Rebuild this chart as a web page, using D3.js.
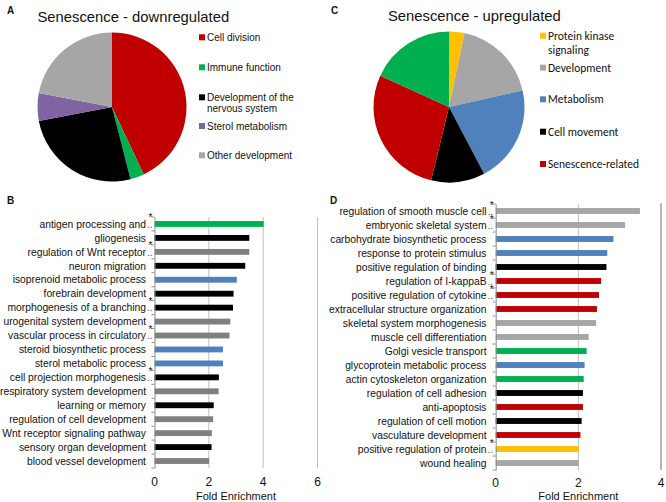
<!DOCTYPE html>
<html>
<head>
<meta charset="utf-8">
<script src="https://cdn.jsdelivr.net/npm/d3@7"></script>
<style>
  html, body { margin: 0; padding: 0; background: #fff; }
  svg { display: block; }
</style>
</head>
<body>
<svg id="chart" width="666" height="502"></svg>
<script>
// ---------- DATA ----------
const pieALabels = ["Cell division", "Immune function", "Development of the|nervous system", "Sterol metabolism", "Other development"];
const pieAValues = [43, 3, 26, 6, 22];
const pieAColors = ["#c00000", "#00b050", "#000000", "#8064a2", "#a6a6a6"];

const pieCLabels = ["Protein kinase|signaling", "Development", "Metabolism", "Cell movement", "Senescence-related", ""];
const pieCValues = [3.3, 18.2, 20.8, 11.5, 28, 18.2];
const pieCColors = ["#ffc000", "#a6a6a6", "#4f81bd", "#000000", "#c00000", "#00b050"];

const barBLabels = ["antigen processing and", "gliogenesis", "regulation of Wnt receptor", "neuron migration",
  "isoprenoid metabolic process", "forebrain development", "morphogenesis of a branching",
  "urogenital system development", "vascular process in circulatory", "steroid biosynthetic process",
  "sterol metabolic process", "cell projection morphogenesis", "respiratory system development",
  "learning or memory", "regulation of cell development", "Wnt receptor signaling pathway",
  "sensory organ development", "blood vessel development"];
const barBValues = [4.02, 3.49, 3.49, 3.34, 3.03, 2.91, 2.89, 2.79, 2.76, 2.52, 2.52, 2.37, 2.36, 2.18, 2.16, 2.11, 2.10, 2.01];
const barBColors = ["#00b050", "#000000", "#808080", "#000000", "#4f81bd", "#000000", "#000000", "#808080", "#808080",
  "#4f81bd", "#4f81bd", "#000000", "#808080", "#000000", "#808080", "#808080", "#000000", "#808080"];
const barBStar = [1, 0, 1, 0, 0, 0, 1, 0, 1, 0, 0, 1, 0, 0, 0, 0, 0, 0];
const ticksB = [0, 2, 4, 6];

const barDLabels = ["regulation of smooth muscle cell", "embryonic skeletal system", "carbohydrate biosynthetic process",
  "response to protein stimulus", "positive regulation of binding", "regulation of I-kappaB",
  "positive regulation of cytokine", "extracellular structure organization", "skeletal system morphogenesis",
  "muscle cell differentiation", "Golgi vesicle transport", "glycoprotein metabolic process",
  "actin cytoskeleton organization", "regulation of cell adhesion", "anti-apoptosis", "regulation of cell motion",
  "vasculature development", "positive regulation of protein", "wound healing"];
const barDValues = [3.49, 3.13, 2.85, 2.70, 2.68, 2.55, 2.50, 2.45, 2.43, 2.25, 2.20, 2.15, 2.13, 2.11, 2.11, 2.08, 2.05, 2.01, 2.01];
const barDColors = ["#a6a6a6", "#a6a6a6", "#4f81bd", "#4f81bd", "#000000", "#c00000", "#c00000", "#c00000", "#a6a6a6",
  "#a6a6a6", "#00b050", "#4f81bd", "#00b050", "#000000", "#c00000", "#000000", "#c00000", "#ffc000", "#a6a6a6"];
const barDStar = [1, 1, 0, 0, 0, 1, 1, 0, 0, 0, 0, 0, 0, 0, 0, 0, 0, 1, 0];
const ticksD = [0, 2, 4];

// ---------- DRAW ----------
const ARIAL = '"Liberation Sans", Arial, sans-serif';
const CALIBRI = 'Carlito, Lato, "Liberation Sans", sans-serif';
const svg = d3.select("#chart");

function txt(x, y, s, size, family, anchor) {
  return svg.append("text").attr("x", x).attr("y", y).attr("font-size", size)
    .style("font-family", family || ARIAL).attr("text-anchor", anchor || "start")
    .attr("fill", "#111").text(s);
}

txt(7, 14, "A", 10).attr("font-weight", "bold");
txt(331, 14, "C", 10).attr("font-weight", "bold");
txt(7, 204, "B", 10).attr("font-weight", "bold");
txt(330, 204, "D", 10).attr("font-weight", "bold");

function drawPie(cx, cy, r, values, colors, labels, title, titleX, titleY, legX, legYs, legFont, legSize, lineGap) {
  const g = svg.append("g").attr("transform", `translate(${cx},${cy})`);
  const pie = d3.pie().sort(null).value(d => d)(values);
  const arc = d3.arc().innerRadius(0).outerRadius(r);
  g.selectAll("path").data(pie).join("path")
    .attr("d", arc).attr("fill", (d, i) => colors[i]);
  txt(titleX, titleY, title, 14.8, ARIAL);
  labels.forEach((lab, i) => {
    if (!lab) return;
    const y = legYs[i];
    svg.append("rect").attr("x", legX).attr("y", y - 3).attr("width", 6).attr("height", 6).attr("fill", colors[i]);
    lab.split("|").forEach((p, j) => {
      txt(legX + 8, y + legSize * 0.36 + j * lineGap, p, legSize, legFont);
    });
  });
}

drawPie(112, 107, 74.5, pieAValues, pieAColors, pieALabels, "Senescence - downregulated", 37.5, 21.5,
  199, [37.3, 67.3, 97.3, 126, 155.3], ARIAL, 10, 11);
drawPie(449, 107, 75.5, pieCValues, pieCColors, pieCLabels, "Senescence - upregulated", 388, 20.5,
  540, [35.7, 67.7, 99.3, 131.7, 164], CALIBRI, 11.5, 14.5);

function drawBars(labels, values, colors, stars, ticks, x0, x1, dmax, y0, y1, labelX, tickY, titleY, rightBorder, gridColor) {
  const x = d3.scaleLinear().domain([0, dmax]).range([x0, x1]);
  const y = d3.scaleBand().domain(labels).range([y0, y1]).paddingInner(0.58).paddingOuter(0.29);
  const g = svg.append("g");
  g.selectAll("line.grid").data(ticks.filter(t => t > 0)).join("line")
    .attr("x1", d => x(d)).attr("x2", d => x(d)).attr("y1", y0).attr("y2", y1)
    .attr("stroke", gridColor).attr("stroke-width", 1);
  g.selectAll("rect").data(labels).join("rect")
    .attr("x", x(0)).attr("y", d => y(d))
    .attr("width", (d, i) => x(values[i]) - x(0)).attr("height", y.bandwidth())
    .attr("fill", (d, i) => colors[i]);
  const ax = g.append("g").attr("transform", `translate(${x(0)},0)`)
    .call(d3.axisLeft(y).tickSize(0).tickFormat(""));
  ax.select(".domain").attr("stroke", "#8c8c8c");
  const step = y.step();
  for (let i = 0; i <= labels.length; i++) {
    const yy = y0 + i * step;
    g.append("line").attr("x1", x(0) - 3).attr("x2", x(0)).attr("y1", yy).attr("y2", yy).attr("stroke", "#8c8c8c");
  }
  labels.forEach((lab, i) => {
    const cy = y(lab) + y.bandwidth() / 2;
    txt(labelX, cy + 3.7, lab, 10.3, ARIAL, "end");
    if (stars[i]) {
      txt(labelX + 1, cy + 3.7, "..", 10.3, ARIAL, "start").attr("fill", "#555");
      txt(x(0) - 4, cy - 2.5, "*", 10, ARIAL, "middle");
    }
  });
  ticks.forEach(t => txt(x(t), tickY, t, 12, ARIAL, "middle"));
  txt((x(0) + x(ticks[ticks.length - 1])) / 2, titleY, "Fold Enrichment", 11, ARIAL, "middle");
  if (rightBorder) {
    g.append("line").attr("x1", x(dmax)).attr("x2", x(dmax)).attr("y1", y0 - 1).attr("y2", y1)
      .attr("stroke", "#8c8c8c");
  }
}

drawBars(barBLabels, barBValues, barBColors, barBStar, ticksB, 154.5, 317.5, 6, 217, 468, 146, 486, 500, false, "#bfbfbf");
drawBars(barDLabels, barDValues, barDColors, barDStar, ticksD, 495.7, 661, 4, 204, 470, 486.5, 487, 500, true, "#bfbfbf");
</script>
</body>
</html>
